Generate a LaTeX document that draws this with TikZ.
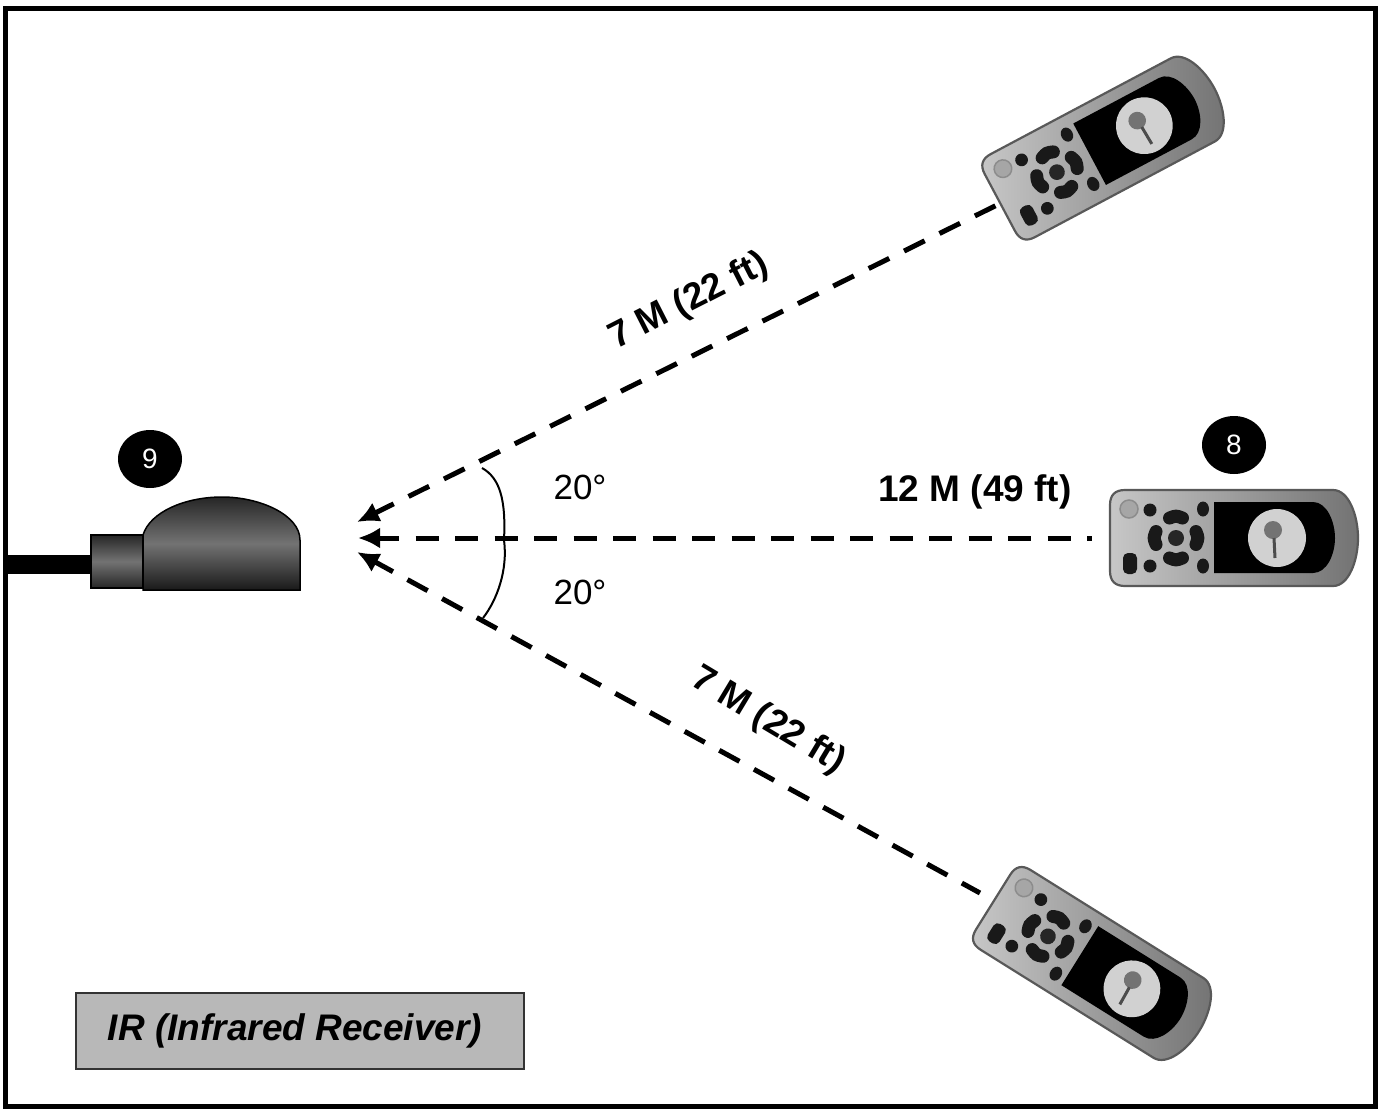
\documentclass[tikz,border=0pt]{standalone}
\usepackage{fontspec}
\setmainfont{Liberation Sans}
\usetikzlibrary{calc,
shapes.geometric,
arrows.meta,
positioning}

\tikzset{
    remote/.pic={
        % case
        \draw [
            draw = black!65,
            line width = 2.2pt,
            left color = black!22,
            right color = black!55,
        ] (-110, -48) -- (98, -48) .. controls (114, -48) and (123, -22) .. (123, 0)
            .. controls (123, 22) and (114, 48) .. (98, 48) -- (-110, 48)
            .. controls (-120, 48) and (-125, 43) .. (-125, 33) -- (-125, -33)
            .. controls (-125, -43) and (-120, -48) .. (-110, -48) -- cycle;
        % screen
        \fill [black] (-21, -36) -- (78, -36) .. controls (92, -36) and (100, -16) .. (100, 0)
            .. controls (100, 16) and (92, 35) .. (78, 35) -- (-21, 35) -- cycle;
        \fill [black!18] (42, 0) circle (29);
        \fill [black!55] (38, -8) circle (9);
        \draw [black!70, line width = 3pt] (39, 0) -- (40, 20);
        % buttons
        \draw [black!45, line width = 1.5pt, fill = black!35] (-106, -29) circle (9);
        \fill [black!90] (-85, -28) circle (6.5);
        \fill [black!90] (-85, 28) circle (6.5);
        \fill [black!90] (-32, -29) ellipse (6 and 7.5);
        \fill [black!90] (-32, 28) ellipse (6 and 7.5);
        \fill [black!90, rounded corners = 5pt] (-112, 15) rectangle (-98, 36);
        % four-way pad
        \foreach \padangle in {0, 90, 180, 270} {
            \draw [black!90, line width = 13pt, line cap = round]
                ($(-59, 0) + (\padangle - 18 : 21)$) .. controls ($(-59, 0) + (\padangle : 22.5)$)
                .. ($(-59, 0) + (\padangle + 18 : 21)$);
        }
        \fill [black!85] (-59, 0) circle (8);
    }
}

\begin{document}
\begin{tikzpicture} [x = 1pt,
        y = -1pt,
        >=Latex,
        beam/.style={line width = 5pt,
                dash pattern = on 23pt off 16.5pt,
                dash phase = 1.8pt,
                {Latex[length = 22pt, width = 21pt]}-},
        badge/.style={ellipse, fill = black, text = white,
                inner sep = 0pt, minimum width = 64pt, minimum height = 58pt,
                font = \fontsize{28}{30}\selectfont},
        range label/.style={font = \bfseries\fontsize{37}{39}\selectfont},
        angle label/.style={font = \fontsize{35}{37}\selectfont}]

    \useasboundingbox (0, 0) rectangle (1379, 1109);

    \node [
        draw,
        line width = 5pt,
        minimum width = 1370pt,
        minimum height = 1098pt,
    ] (frame) at (690, 557) {};

    % receiver
    \fill [black] (8, 555) rectangle (90, 574);
    \draw [
        line width = 1.5pt,
        top color = black!85,
        bottom color = black!85,
        middle color = black!55,
    ] (91, 535) rectangle (143, 588);
    \draw [
        line width = 1.5pt,
        top color = black!85,
        bottom color = black!90,
        middle color = black!55,
    ] (143, 590) -- (143, 535) .. controls (150, 512) and (185, 497) .. (222, 497)
        .. controls (260, 497) and (300, 515) .. (300, 540) -- (300, 590) -- cycle;

    \node [badge] (rx_badge) at (150, 459) {9};
    \node [badge] (tx_badge) at (1234, 445) {8};

    % remotes
    \pic [rotate = 28, scale = .98] at (1108, 145) {remote};
    \pic at (1235, 538) {remote};
    \pic [rotate = -32, scale = .98] at (1097, 967) {remote};

    \coordinate (top_end) at (997, 205);
    \coordinate (mid_end) at (1092, 538);
    \coordinate (low_end) at (980, 893);
    \coordinate (top_tip) at (357, 522);
    \coordinate (mid_tip) at (358, 538);
    \coordinate (low_tip) at (357, 552);

    \draw [beam] (top_tip) -- (top_end);
    \draw [beam] (mid_tip) -- (mid_end);
    \draw [beam] (low_tip) -- (low_end);

    % angle
    \coordinate (arc_top) at (482, 468);
    \coordinate (arc_mid) at (504, 540);
    \coordinate (arc_low) at (483, 618);
    \draw [line width = 2pt] (arc_top) .. controls (500, 478) and (506, 500) .. (arc_mid)
        .. controls (508, 570) and (497, 600) .. (arc_low);

    \node [angle label] (up_angle) at (580, 487) {20°};
    \node [angle label] (down_angle) at (580, 592) {20°};

    \node [range label, rotate = 27] (top_range) at (689, 302) {7 M (22 ft)};
    \node [range label] (mid_range) at (975, 492) {12 M (49 ft)};
    \node [range label, rotate = -31] (low_range) at (768, 721) {7 M (22 ft)};

    \node [
        draw = black!80,
        line width = 2pt,
        fill = black!28,
        minimum width = 448pt,
        minimum height = 76pt,
        font = \bfseries\itshape\fontsize{37}{39}\selectfont,
    ] (legend) at (300, 1031) {\raisebox{-2pt}{\hspace{-10pt}IR (Infrared Receiver)}};

\end{tikzpicture}
\end{document}
